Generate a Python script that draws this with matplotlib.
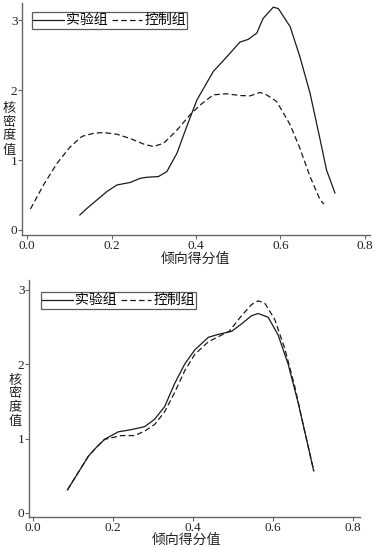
import matplotlib
matplotlib.use("Agg")
import matplotlib.pyplot as plt

# top panel: kernel density before matching
top_x_treat = [0.125, 0.142, 0.189, 0.213, 0.244, 0.268, 0.284, 0.311, 0.331,
               0.355, 0.378, 0.402, 0.441, 0.473, 0.504, 0.524, 0.544, 0.559,
               0.583, 0.595, 0.623, 0.646, 0.670, 0.694, 0.709, 0.729]
top_y_treat = [0.215, 0.31, 0.55, 0.645, 0.68, 0.74, 0.755, 0.765, 0.836,
               1.10, 1.48, 1.86, 2.27, 2.48, 2.69, 2.73, 2.82, 3.03,
               3.19, 3.17, 2.91, 2.48, 1.96, 1.29, 0.86, 0.53]
top_x_ctrl = [0.008, 0.039, 0.071, 0.102, 0.130, 0.158, 0.181, 0.213, 0.244,
              0.276, 0.299, 0.323, 0.355, 0.386, 0.410, 0.441, 0.473, 0.504,
              0.528, 0.552, 0.567, 0.591, 0.623, 0.646, 0.670, 0.694, 0.703]
top_y_ctrl = [0.30, 0.645, 0.955, 1.19, 1.34, 1.385, 1.395, 1.37, 1.31,
              1.23, 1.195, 1.24, 1.43, 1.65, 1.79, 1.935, 1.95, 1.925,
              1.92, 1.97, 1.935, 1.84, 1.505, 1.17, 0.765, 0.43, 0.37]

# bottom panel: kernel density after matching
bot_x_treat = [0.086, 0.108, 0.138, 0.158, 0.179, 0.213, 0.246, 0.279, 0.304,
               0.329, 0.354, 0.379, 0.404, 0.438, 0.463, 0.496, 0.521, 0.546,
               0.5625, 0.5875, 0.6125, 0.6375, 0.6625, 0.683, 0.701]
bot_y_treat = [0.31, 0.50, 0.76, 0.88, 0.99, 1.09, 1.12, 1.16, 1.26,
               1.43, 1.74, 2.0, 2.19, 2.36, 2.40, 2.44, 2.54, 2.65,
               2.68, 2.63, 2.39, 2.0, 1.48, 1.0, 0.57]
bot_x_ctrl = [0.086, 0.108, 0.138, 0.158, 0.179, 0.221, 0.254, 0.279, 0.304,
              0.329, 0.354, 0.379, 0.404, 0.438, 0.471, 0.49, 0.521, 0.546,
              0.5625, 0.579, 0.604, 0.629, 0.654, 0.679, 0.702]
bot_y_ctrl = [0.31, 0.50, 0.76, 0.88, 0.99, 1.04, 1.04, 1.10, 1.19,
              1.36, 1.62, 1.91, 2.13, 2.30, 2.39, 2.44, 2.65, 2.80,
              2.85, 2.82, 2.60, 2.21, 1.70, 1.09, 0.56]

labels = ["实验组", "控制组"]
x_ticks = [0.0, 0.2, 0.4, 0.6, 0.8]
x_tick_labels = ["0.0", "0.2", "0.4", "0.6", "0.8"]
y_ticks = [0, 1, 2, 3]
x_title = "倾向得分值"
y_title = "核\n密\n度\n值"

W, H = 377, 550
cjk = ["Noto Sans CJK SC", "DejaVu Sans"]
serif = "Liberation Serif"
axis_color = "#666666"
line_color = "#1a1a1a"


def px(x0, y0, x1, y1):
    # pixel box (left, top, right, bottom) -> figure fraction rect
    return [x0 / W, 1 - y1 / H, (x1 - x0) / W, (y1 - y0) / H]


def style_axes(ax, xlim, ylim):
    ax.set_xlim(*xlim)
    ax.set_ylim(*ylim)
    for side in ["top", "right"]:
        ax.spines[side].set_visible(False)
    for side in ["left", "bottom"]:
        ax.spines[side].set_color(axis_color)
        ax.spines[side].set_linewidth(1.0)
    ax.set_xticks(x_ticks)
    ax.set_xticklabels(x_tick_labels, fontfamily=serif, fontsize=9.5)
    ax.set_yticks(y_ticks)
    ax.set_yticklabels([str(v) for v in y_ticks], fontfamily=serif, fontsize=9.5)
    ax.tick_params(direction="out", length=3, width=0.8, color=axis_color,
                   pad=0.3, labelcolor="#222222")


def draw_panel(rect, xlim, ylim, xt, yt, xc, yc, legend_box, ylab_xy, xlab_xy):
    ax = fig.add_axes(px(*rect))
    style_axes(ax, xlim, ylim)
    ax.plot(xt, yt, color=line_color, lw=0.9, label=labels[0])
    ax.plot(xc, yc, color=line_color, lw=0.9, linestyle=(0, (4.5, 2.5)),
            label=labels[1])
    leg = ax.legend(loc="upper left", ncol=2, frameon=True, fancybox=False,
                    bbox_to_anchor=(legend_box[0] / W, 1 - legend_box[1] / H),
                    bbox_transform=fig.transFigure,
                    prop={"family": cjk, "size": 10}, handlelength=2.2,
                    handletextpad=0.15, columnspacing=0.3, borderpad=0.1,
                    borderaxespad=0)
    leg.get_frame().set_edgecolor("#333333")
    leg.get_frame().set_linewidth(0.9)
    fig.text(ylab_xy[0] / W, 1 - ylab_xy[1] / H, y_title, family=cjk,
             fontsize=9.5, ha="center", va="center", linespacing=1.1,
             color="#222222")
    fig.text(xlab_xy[0] / W, 1 - xlab_xy[1] / H, x_title, family=cjk,
             fontsize=10, ha="center", va="center", color="#222222")
    return ax


fig = plt.figure(figsize=(W / 100, H / 100), dpi=100)

draw_panel((22, 3, 370, 235), (-0.012, 0.812), (-0.072, 3.25),
           top_x_treat, top_y_treat, top_x_ctrl, top_y_ctrl,
           (32, 12), (9, 129), (195, 259))

draw_panel((29, 280, 360, 517), (-0.01, 0.817), (-0.054, 3.13),
           bot_x_treat, bot_y_treat, bot_x_ctrl, bot_y_ctrl,
           (41, 292), (15, 401), (186, 540))

fig.savefig("out.png", dpi=100)
